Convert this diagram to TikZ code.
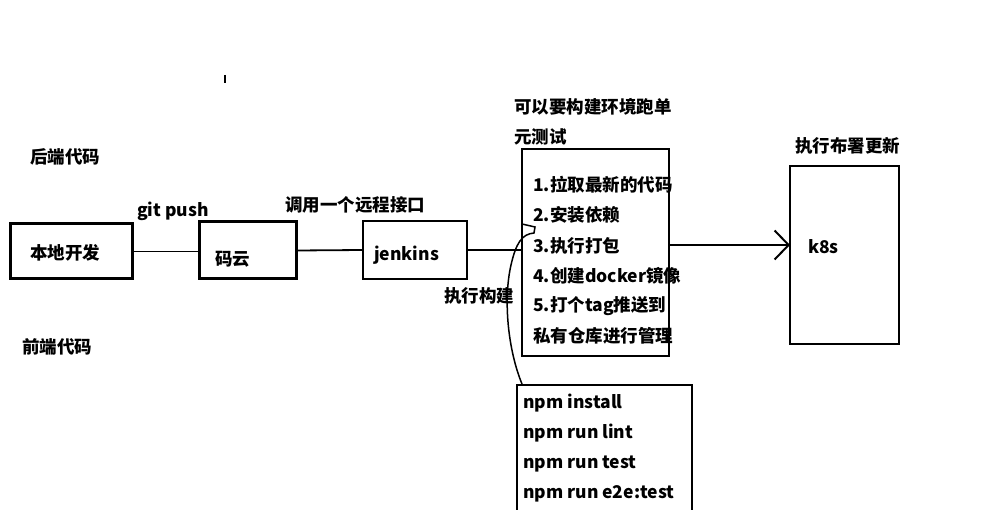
\documentclass[tikz,border=0pt]{standalone}
\usepackage{fontspec}
\setmainfont{Noto Sans CJK SC}
\usetikzlibrary{arrows.meta}
\begin{document}
\begin{tikzpicture}[x=1pt,y=-1pt,
  lbl/.style={anchor=west,inner sep=0pt,font=\fontsize{17.5}{20}\selectfont\bfseries},
  box/.style={draw,line width=2pt,inner sep=0pt},
  heavy/.style={box,line width=3pt},
  conn/.style={line width=1.8pt}]
\useasboundingbox (0,0) rectangle (988,510);
\clip (0,0) rectangle (988,510);
\fill[white] (0,0) rectangle (988,510);

\draw[line width=2pt] (224.5,75)--(224.5,83);

\node[heavy,minimum width=122,minimum height=55] (dev) at (71,251.5) {};
\node[heavy,minimum width=97,minimum height=57] (gitee) at (247.5,250.5) {};
\node[box,minimum width=104,minimum height=58] (jenkins) at (415,250) {};
\node[box,minimum width=147,minimum height=207] (steps) at (595.5,252.5) {};
\node[box,minimum width=109,minimum height=178] (k8s) at (844.5,255) {};
\node[box,minimum width=175,minimum height=135] (npm) at (604.5,452.5) {};

\node[lbl] (back) at (30,157) {后端代码};
\node[lbl] (front) at (22,347) {前端代码};
\node[lbl] (devtxt) at (30,253) {本地开发};
\node[lbl] (push) at (137,211) {git push};
\node[lbl] (gitxt) at (215,259) {码云};
\node[lbl] (call) at (285,205) {调用一个远程接口};
\node[lbl] (jtxt) at (374,255) {jenkins};
\node[lbl] (build) at (444,296) {执行构建};

\node[lbl] (env1) at (514,107) {可以要构建环境跑单};
\node[lbl] (env2) at (514,137) {元测试};
\node[lbl] (s1) at (533,185) {1.拉取最新的代码};
\node[lbl] (s2) at (533,215) {2.安装依赖};
\node[lbl] (s3) at (533,246) {3.执行打包};
\node[lbl] (s4) at (533,276) {4.创建docker镜像};
\node[lbl] (s5) at (533,306) {5.打个tag推送到};
\node[lbl] (s6) at (533,336) {私有仓库进行管理};

\node[lbl] (n1) at (523,403) {npm install};
\node[lbl] (n2) at (523,433) {npm run lint};
\node[lbl] (n3) at (523,464) {npm run test};
\node[lbl] (n4) at (523,494) {npm run e2e:test};

\node[lbl] (deploy) at (795,146) {执行布署更新};
\node[lbl] (ktxt) at (808,247) {k8s};

\draw[conn] (dev.east) -- (dev.east -| gitee.west);
\draw[conn] (gitee.east) -- (jenkins.west);
\draw[conn] (jenkins.east) -- (jenkins.east -| steps.west);
\coordinate (tip) at (790,245);
\draw[conn,-{Straight Barb[length=14pt,width=29pt,line width=2pt]}] (steps.east |- tip) -- (tip);

\draw[line width=1.5pt] ([xshift=6pt]npm.north west) .. controls (508,350) and (503,300) .. (511,265)
  .. controls (516,243) and (522,234) .. (534,233) -- (535,227) -- (522,224);
\end{tikzpicture}
\end{document}
